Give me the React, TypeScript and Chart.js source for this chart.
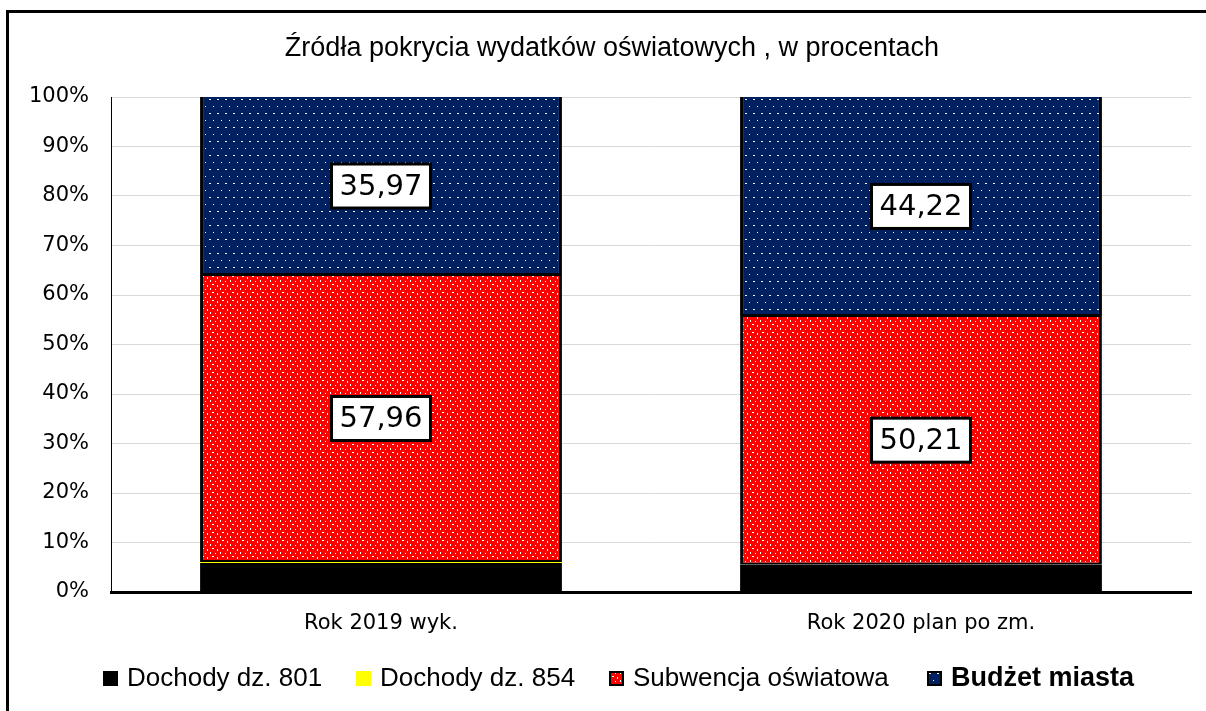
import React, { useEffect, useRef } from "react";
import { Chart, registerables } from "chart.js";

Chart.register(...registerables);

const titleText = "Źródła pokrycia wydatków oświatowych , w procentach";
const categories = ["Rok 2019 wyk.", "Rok 2020 plan po zm."];
const seriesNames = ["Dochody dz. 801", "Dochody dz. 854", "Subwencja oświatowa", "Budżet miasta"];
const dochody801 = [5.85, 5.57];
const dochody854 = [0.22, 0];
const subwencja = [57.96, 50.21];
const budzet = [35.97, 44.22];
const yTicks = [0, 10, 20, 30, 40, 50, 60, 70, 80, 90, 100];

function makePattern(bg: string, w: number, h: number, dots: number[][]) {
  const c = document.createElement("canvas");
  c.width = w;
  c.height = h;
  const g = c.getContext("2d")!;
  g.fillStyle = bg;
  g.fillRect(0, 0, w, h);
  g.fillStyle = "#ffffff";
  dots.forEach(([x, y, dw, dh]) => g.fillRect(x, y, dw, dh));
  return g.createPattern(c, "repeat")!;
}

export default function App() {
  const ref = useRef<HTMLCanvasElement>(null);
  useEffect(() => {
    const canvas = ref.current!;
    const redPat = makePattern("#ff0000", 10, 8, [
      [0, 0, 1, 2],
      [5, 1, 1, 1],
      [2, 4, 2, 1],
      [7, 5, 1, 2],
    ]);
    const navyPat = makePattern("#002060", 8, 14, [
      [1, 1, 2, 1],
      [5, 8, 1, 1],
    ]);

    const labelPlugin = {
      id: "boxLabels",
      afterDatasetsDraw(chart: any) {
        const ctx = chart.ctx;
        [2, 3].forEach((di) => {
          const meta = chart.getDatasetMeta(di);
          const data = chart.data.datasets[di].data as number[];
          meta.data.forEach((bar: any, i: number) => {
            const txt = data[i].toFixed(2).replace(".", ",");
            const cy = (bar.y + bar.base) / 2;
            ctx.save();
            ctx.font = '29px "DejaVu Sans"';
            const tw = ctx.measureText(txt).width;
            const bw = tw + 16;
            const bh = 44;
            ctx.fillStyle = "#ffffff";
            ctx.fillRect(bar.x - bw / 2, cy - bh / 2, bw, bh);
            ctx.lineWidth = 3;
            ctx.strokeStyle = "#000000";
            ctx.strokeRect(bar.x - bw / 2, cy - bh / 2, bw, bh);
            ctx.fillStyle = "#000000";
            ctx.textAlign = "center";
            ctx.textBaseline = "middle";
            ctx.fillText(txt, bar.x, cy + 1);
            ctx.restore();
          });
        });
      },
    };

    const decorPlugin = {
      id: "decor",
      beforeDraw(chart: any) {
        const ctx = chart.ctx;
        ctx.save();
        ctx.fillStyle = "#ffffff";
        ctx.fillRect(0, 0, chart.width, chart.height);
        ctx.fillStyle = "#000000";
        ctx.fillRect(6, 10, 3, chart.height - 10);
        ctx.fillRect(6, 10, chart.width - 6, 3);
        ctx.restore();
      },
      afterDraw(chart: any) {
        const ctx = chart.ctx;
        ctx.save();
        ctx.fillStyle = "#000000";
        ctx.font = '27px "Liberation Sans"';
        ctx.textAlign = "center";
        ctx.textBaseline = "middle";
        ctx.fillText(titleText, 612, 49);

        const fills = ["#000000", "#ffff00", redPat, navyPat];
        const boxX = [103, 356, 609, 927];
        const ly = 678;
        seriesNames.forEach((name, i) => {
          const x = boxX[i];
          ctx.fillStyle = fills[i];
          ctx.fillRect(x, ly - 7, 15, 15);
          if (i >= 2) {
            ctx.strokeStyle = "#000000";
            ctx.lineWidth = 2;
            ctx.strokeRect(x + 1, ly - 6, 13, 13);
          }
          ctx.fillStyle = "#000000";
          ctx.textAlign = "left";
          ctx.textBaseline = "middle";
          ctx.font = i === 3 ? 'bold 27px "Liberation Sans"' : '26px "Liberation Sans"';
          ctx.fillText(name, x + 24, ly + 1);
        });
        ctx.restore();
      },
    };

    const common = {
      borderSkipped: false as const,
      barPercentage: 0.67,
      categoryPercentage: 1,
    };

    const chart = new Chart(canvas, {
      type: "bar",
      data: {
        labels: categories,
        datasets: [
          { ...common, label: seriesNames[0], data: dochody801, backgroundColor: "#000000", borderWidth: 0 },
          { ...common, label: seriesNames[1], data: dochody854, backgroundColor: "#ffff00", borderWidth: 0 },
          {
            ...common,
            label: seriesNames[2],
            data: subwencja,
            backgroundColor: redPat as any,
            borderColor: "#000000",
            borderWidth: { top: 1, bottom: 2, left: 3, right: 3 },
          },
          {
            ...common,
            label: seriesNames[3],
            data: budzet,
            backgroundColor: navyPat as any,
            borderColor: "#000000",
            borderWidth: { top: 0, bottom: 2, left: 3, right: 3 },
          },
        ],
      },
      options: {
        responsive: false,
        animation: false,
        layout: { padding: { top: 97, left: 0, right: 15, bottom: 0 } },
        plugins: {
          legend: { display: false },
          title: { display: false },
          tooltip: { enabled: false },
        },
        scales: {
          x: {
            stacked: true,
            grid: { display: false, drawTicks: false },
            border: { display: true, color: "#000000", width: 3 },
            ticks: {
              color: "#000000",
              font: { family: "DejaVu Sans", size: 21 },
              padding: 19,
            },
            afterFit(scale: any) {
              scale.height = 119;
            },
          },
          y: {
            stacked: true,
            min: 0,
            max: 100,
            afterBuildTicks(scale: any) {
              scale.ticks = yTicks.map((v) => ({ value: v }));
            },
            grid: { color: "#d9d9d9", lineWidth: 1, drawTicks: false },
            border: { display: true, color: "#000000", width: 1 },
            ticks: {
              color: "#000000",
              font: { family: "DejaVu Sans", size: 21 },
              padding: 22,
              callback: (v: any) => `${v}%`,
            },
            afterFit(scale: any) {
              scale.width = 111;
            },
          },
        },
      },
      plugins: [decorPlugin, labelPlugin],
    });
    return () => chart.destroy();
  }, []);

  return (
    <div style={{ position: "fixed", left: 0, top: 0, width: 1206, height: 711, background: "#fff" }}>
      <canvas ref={ref} width={1206} height={711} style={{ width: 1206, height: 711, display: "block" }} />
    </div>
  );
}
